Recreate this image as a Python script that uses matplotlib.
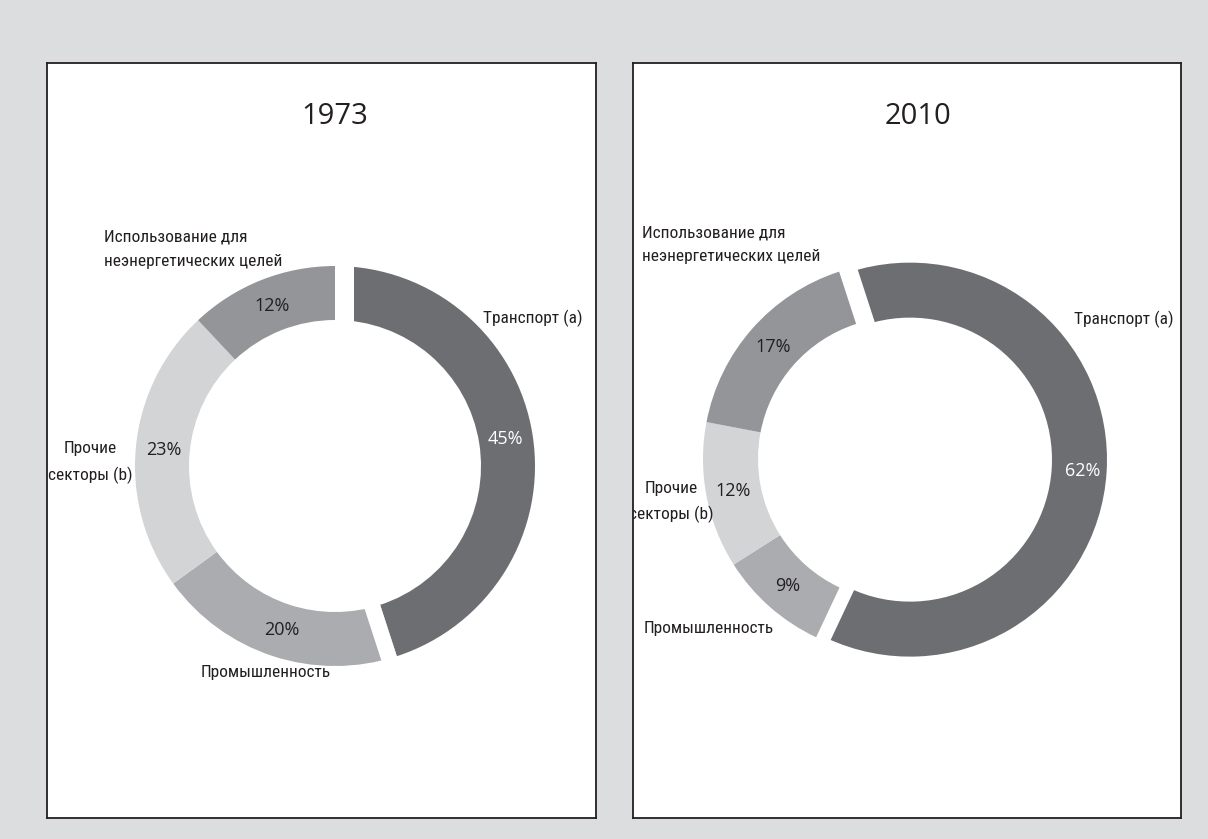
import numpy as np
import matplotlib
matplotlib.use('Agg')
import matplotlib.pyplot as plt
from matplotlib import font_manager as fm
from matplotlib.patches import Polygon

# data
years = ['1973', '2010']
sectors = ['Транспорт (a)', 'Промышленность', 'Прочие\nсекторы (b)',
           'Использование для\nнеэнергетических целей']
share_1973 = [45, 20, 23, 12]
share_2010 = [62, 9, 12, 17]
shares = [share_1973, share_2010]

colors = ['#6d6e71', '#abacaf', '#d3d4d6', '#939598']
pct_colors = ['white', '#231f20', '#231f20', '#231f20']
BG = '#dcdddf'
INK = '#231f20'
REGULAR = ['Open Sans', 'DejaVu Sans']


def condensed_font():
    # the original uses a condensed face; take whichever narrow font is installed
    fonts = fm.fontManager.ttflist
    names = {f.name for f in fonts}
    for n in ['Liberation Sans Narrow', 'Roboto Condensed', 'Open Sans Condensed',
              'Noto Sans Condensed', 'Arial Narrow', 'DejaVu Sans Condensed']:
        if n in names:
            return dict(family=[n, 'DejaVu Sans'], fontsize=12.5)
    for f in fonts:
        if f.stretch in ('condensed', 'semi-condensed', 'extra-condensed') \
                and f.style == 'normal' and f.weight in (400, 'normal', 'regular'):
            return dict(family=[f.name, 'DejaVu Sans'], fontstretch=f.stretch, fontsize=12.5)
    return dict(family=['Roboto', 'DejaVu Sans'], fontsize=11)


CONDENSED = condensed_font()

W, H = 1208, 839

# panel layout (pixels of the panel box, donut geometry in data units, 1 unit = 200 px)
panels = [
    dict(box=(47, 63, 596, 818), xlim=(-1.44, 1.305), ylim=(-1.76, 2.015),
         radius=1.0, ring=0.27, start=90, explode=0.0, title=(0.0, 1.75),
         gaps=[(1, 0.095), (1, 0.08)], pct_first=0.86,
         lab_xy=[(0.99, 0.74), (-0.345, -1.035), (-1.225, 0.018), (-1.155, 1.085)],
         lab_ha=['center', 'center', 'center', 'left']),
    dict(box=(633, 63, 1181, 818), xlim=(-1.335, 1.405), ylim=(-1.795, 1.98),
         radius=0.985, ring=0.275, start=108, explode=0.05, title=(0.09, 1.715),
         gaps=[(1, 0.045), (-1, 0.025)], pct_first=0.88,
         lab_xy=[(1.118, 0.698), (-0.955, -0.85), (-1.145, -0.215), (-1.29, 1.0725)],
         lab_ha=['center', 'center', 'center', 'left']),
]


def cut_gap(ax, ang, side, w, r0, r1, shift=(0, 0), back=0.0):
    # white strip along one side of a slice boundary
    t = np.deg2rad(ang)
    u = np.array([np.cos(t), np.sin(t)])
    n = side * np.array([np.sin(t), -np.cos(t)])
    pts = np.array([u * r0 - n * back, u * r1 - n * back,
                    u * r1 + n * w, u * r0 + n * w]) + np.array(shift)
    ax.add_patch(Polygon(pts, closed=True, facecolor='white', edgecolor='none', zorder=2))


fig = plt.figure(figsize=(W / 100, H / 100), dpi=100, facecolor=BG)

for year, vals, p in zip(years, shares, panels):
    x0, y0, x1, y1 = p['box']
    ax = fig.add_axes([x0 / W, (H - y1) / H, (x1 - x0) / W, (y1 - y0) / H])
    ax.set_facecolor('white')

    wedges, texts, autotexts = ax.pie(
        vals, colors=colors, startangle=p['start'], counterclock=False,
        radius=p['radius'], frame=True, explode=[p['explode'], 0, 0, 0],
        autopct=lambda v: f'{v:.0f}%', pctdistance=0.86,
        wedgeprops=dict(width=p['ring'], edgecolor='none', linewidth=0),
        textprops=dict(fontsize=13, family=REGULAR))
    for t, c in zip(autotexts, pct_colors):
        t.set_color(c)
        t.set_zorder(4)

    # transport slice: its mid angle, the explode offset, and its share label
    top = p['start']
    bottom = p['start'] - 360 * vals[0] / sum(vals)
    mid = np.deg2rad((top + bottom) / 2)
    d = p['explode'] * np.array([np.cos(mid), np.sin(mid)])
    r_pct = p['pct_first'] * p['radius']
    autotexts[0].set_position(d + r_pct * np.array([np.cos(mid), np.sin(mid)]))

    # gaps either side of the transport slice
    r0 = p['radius'] - p['ring'] - 0.05
    r1 = p['radius'] + 0.05
    for ang, sgn, (side, w) in zip([top, bottom], [1, -1], p['gaps']):
        moved = side == sgn and p['explode'] > 0
        cut_gap(ax, ang, side, w, r0, r1,
                shift=d if moved else (0, 0), back=0.015 if moved else 0.0)

    for name, (lx, ly), ha in zip(sectors, p['lab_xy'], p['lab_ha']):
        ax.text(lx, ly, name, ha=ha, va='center', multialignment=ha,
                color=INK, linespacing=1.75, clip_on=True, zorder=4, **CONDENSED)

    ax.text(p['title'][0], p['title'][1], year, ha='center', va='center',
            fontsize=21, family=REGULAR, color=INK)

    ax.set_xlim(*p['xlim'])
    ax.set_ylim(*p['ylim'])
    ax.set_aspect('auto')
    ax.set_xticks([])
    ax.set_yticks([])
    for s in ax.spines.values():
        s.set_visible(True)
        s.set_color(INK)
        s.set_linewidth(1.3)

fig.savefig('out.png', dpi=100, facecolor=BG)
